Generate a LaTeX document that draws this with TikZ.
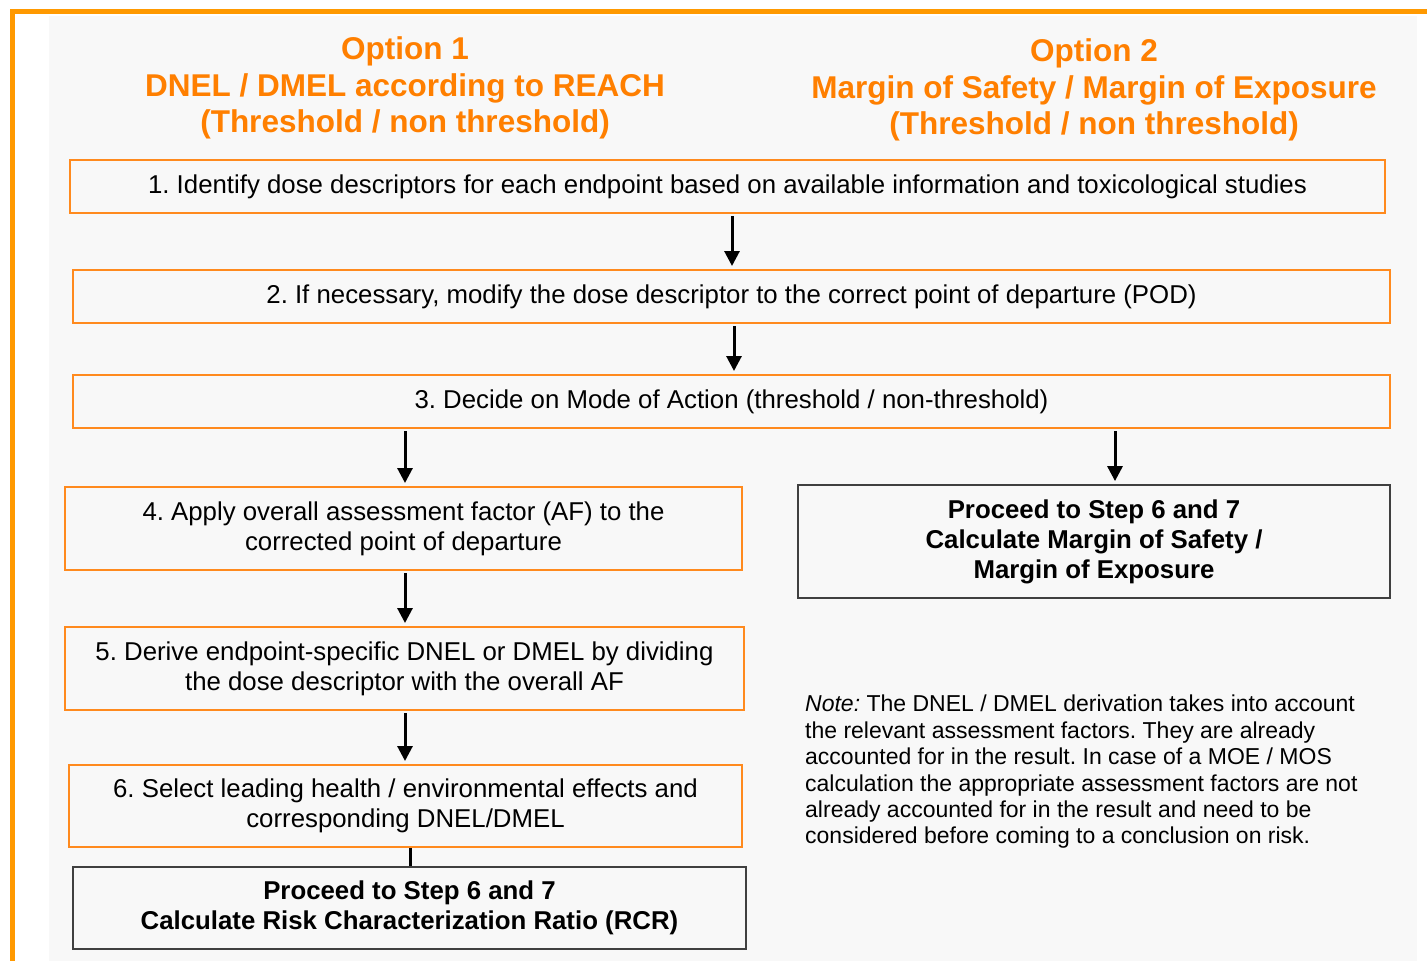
\documentclass[tikz,border=0pt]{standalone}
\usepackage{fontspec}
\setmainfont{Liberation Sans}
\usetikzlibrary{arrows.meta}
\definecolor{frameor}{HTML}{FF9900}
\definecolor{boxor}{HTML}{FF8A1E}
\definecolor{titleor}{HTML}{FF7F00}
\definecolor{panel}{HTML}{F8F8F8}
\definecolor{darkline}{HTML}{404040}
\tikzset{
  obox/.style={draw=boxor, line width=2pt, fill=panel, inner sep=0pt, align=center,
    font=\frenchspacing\fontsize{25.8}{30}\selectfont},
  kbox/.style={draw=darkline, line width=1.8pt, fill=panel, inner sep=0pt, align=center,
    font=\frenchspacing\bfseries\fontsize{25.8}{30}\selectfont},
  ttl/.style={text=titleor, align=center, font=\bfseries\fontsize{31.5}{36.5}\selectfont},
  arr/.style={line width=3pt, -{Triangle[width=15pt,length=15pt]}, shorten >=3pt, shorten <=2pt},
}
\begin{document}
\begin{tikzpicture}[x=1pt,y=-1pt]
\useasboundingbox (0,0) rectangle (1427,961);
\fill[white] (0,0) rectangle (1427,961);
\fill[panel] (49,16) rectangle (1417,961);
\draw[frameor, line width=5pt] (12.5,961) -- (12.5,11.5) -- (1427,11.5);

\node[ttl] (t1) at (405,88) {Option 1\\DNEL / DMEL according to REACH\\(Threshold / non threshold)};
\node[ttl] (t2) at (1094,90) {Option 2\\Margin of Safety / Margin of Exposure\\(Threshold / non threshold)};

\node[obox, minimum width=1315pt, minimum height=53pt] (b1) at (727.5,186.5)
  {1. Identify dose descriptors for each endpoint based on available information and toxicological studies};
\node[obox, minimum width=1317pt, minimum height=53pt] (b2) at (731.5,296.5)
  {2. If necessary, modify the dose descriptor to the correct point of departure (POD)};
\node[obox, minimum width=1317pt, minimum height=53pt] (b3) at (731.5,401.5)
  {3. Decide on Mode of Action (threshold / non-threshold)};
\node[obox, minimum width=677pt, minimum height=83pt] (b4) at (403.5,528.5)
  {4. Apply overall assessment factor (AF) to the\\corrected point of departure};
\node[obox, minimum width=679pt, minimum height=83pt] (b5) at (404.5,668.5)
  {5. Derive endpoint-specific DNEL or DMEL by dividing\\the dose descriptor with the overall AF};
\node[obox, minimum width=673pt, minimum height=82pt] (b6) at (405.5,806)
  {6. Select leading health / environmental effects and\\corresponding DNEL/DMEL};
\node[kbox, minimum width=673pt, minimum height=82pt] (b7) at (409.5,908)
  {Proceed to Step 6 and 7\\Calculate Risk Characterization Ratio (RCR)};
\node[kbox, minimum width=592pt, minimum height=113pt] (r1) at (1094,541.5)
  {Proceed to Step 6 and 7\\Calculate Margin of Safety /\\Margin of Exposure};

\node[anchor=north west, align=left, inner sep=0pt, font=\frenchspacing\fontsize{23}{26.4}\selectfont] (note) at (805,695)
  {\textit{Note:} The DNEL / DMEL derivation takes into account\\
   the relevant assessment factors. They are already\\
   accounted for in the result. In case of a MOE / MOS\\
   calculation the appropriate assessment factors are not\\
   already accounted for in the result and need to be\\
   considered before coming to a conclusion on risk.};

\draw[arr] ([xshift=4.5pt]b1.south) -- ([xshift=0.5pt]b2.north);
\draw[arr] ([xshift=2.5pt]b2.south) -- ([xshift=2.5pt]b3.north);
\draw[arr] (b3.south -| b4.north) ++(1.5,0) -- ([xshift=1.5pt]b4.north);
\draw[arr] (b3.south -| r1.north) ++(21,0) -- ([xshift=21pt]r1.north);
\draw[arr] ([xshift=1.5pt]b4.south) -- ([xshift=0.5pt]b5.north);
\draw[arr] ([xshift=0.5pt]b5.south) -- ([xshift=-0.5pt]b6.north);
\draw[line width=3pt] ([xshift=4.5pt]b6.south) -- ([xshift=0.5pt]b7.north);
\end{tikzpicture}
\end{document}
